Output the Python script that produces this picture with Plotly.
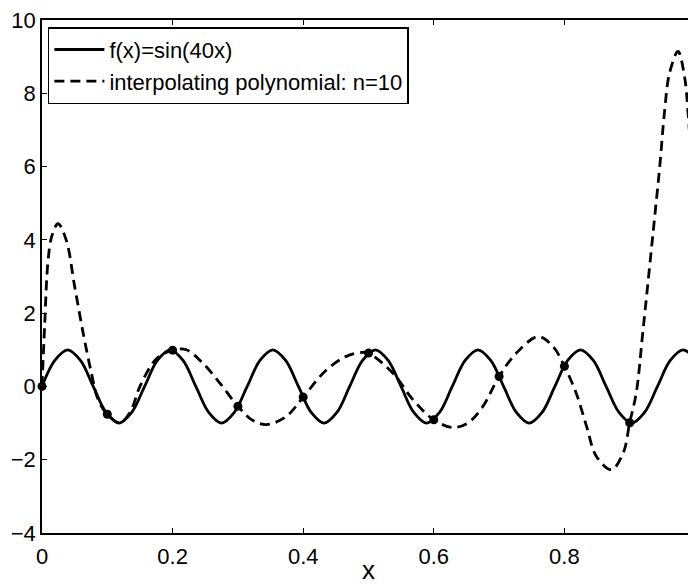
import plotly.graph_objects as go

sin_x = [0.0, 0.0196, 0.0393, 0.0589, 0.0785, 0.0982, 0.1178, 0.1374, 0.1571, 0.1767,
         0.1963, 0.2160, 0.2356, 0.2553, 0.2749, 0.2945, 0.3142, 0.3338, 0.3534, 0.3731,
         0.3927, 0.4123, 0.4320, 0.4516, 0.4712, 0.4909, 0.5105, 0.5301, 0.5498, 0.5694,
         0.5890, 0.6087, 0.6283, 0.6480, 0.6676, 0.6872, 0.7069, 0.7265, 0.7461, 0.7658,
         0.7854, 0.8050, 0.8247, 0.8443, 0.8639, 0.8836, 0.9032, 0.9228, 0.9425, 0.9621,
         0.9817, 1.0]
sin_y = [0, 0.71, 1, 0.71, 0, -0.71, -1, -0.71,
         0, 0.71, 1, 0.71, 0, -0.71, -1, -0.71,
         0, 0.71, 1, 0.71, 0, -0.71, -1, -0.71,
         0, 0.71, 1, 0.71, 0, -0.71, -1, -0.71,
         0, 0.71, 1, 0.71, 0, -0.71, -1, -0.71,
         0, 0.71, 1, 0.71, 0, -0.71, -1, -0.71,
         0, 0.71, 1, 0.75]

# interpolating polynomial, n=10
poly_x = [0.0, 0.004, 0.009, 0.015, 0.0245, 0.037, 0.050, 0.063, 0.0756, 0.086,
          0.1, 0.119, 0.135, 0.15, 0.175, 0.2, 0.221, 0.246, 0.272, 0.3,
          0.322, 0.344, 0.374, 0.4, 0.4355, 0.466, 0.49, 0.5, 0.5375, 0.568,
          0.6, 0.629, 0.652, 0.675, 0.7, 0.7265, 0.76, 0.7825, 0.8, 0.818,
          0.834, 0.849, 0.872, 0.89, 0.9, 0.91, 0.92, 0.9357, 0.946, 0.9536,
          0.961, 0.974, 0.984, 0.989, 0.9945, 0.997, 1.0]
poly_y = [0.0, 1.64, 3.37, 4.1, 4.44, 4.0, 2.73, 1.46, 0.37, -0.36,
          -0.76, -0.99, -0.7, 0.0, 0.75, 0.99, 1.0, 0.64, 0.1, -0.54,
          -0.92, -1.04, -0.82, -0.29, 0.45, 0.82, 0.93, 0.91, 0.36, -0.36,
          -0.91, -1.12, -1.0, -0.55, 0.27, 0.91, 1.36, 1.09, 0.55, -0.18,
          -1.09, -1.91, -2.27, -1.82, -0.99, -0.18, 1.46, 4.18, 6.0, 7.55,
          8.55, 9.14, 8.45, 7.55, 6.0, 4.19, 0.75]

# interpolation nodes
node_x = [0.0, 0.1, 0.2, 0.3, 0.4, 0.5, 0.6, 0.7, 0.8, 0.9, 1.0]
node_y = [0.0, -0.76, 0.99, -0.54, -0.29, 0.91, -0.91, 0.27, 0.55, -0.99, 0.75]

fig = go.Figure()
fig.add_trace(go.Scatter(x=sin_x, y=sin_y, mode='lines', name='f(x)=sin(40x)',
                         line=dict(color='black', width=2.8, shape='spline')))
fig.add_trace(go.Scatter(x=poly_x, y=poly_y, mode='lines', name='interpolating polynomial: n=10',
                         line=dict(color='black', width=2.8, dash='10px,6px', shape='spline')))
fig.add_trace(go.Scatter(x=node_x, y=node_y, mode='markers', showlegend=False,
                         marker=dict(color='black', size=9), cliponaxis=False))

axis_style = dict(showgrid=False, zeroline=False, showline=True, linecolor='black', linewidth=1.5,
                  mirror='ticks', ticks='inside', ticklen=5, tickcolor='black', tickwidth=1,
                  automargin=False, ticklabeloverflow='allow')

# the page has an 8px body margin, so the figure is sized to end at the window edge
fig.update_layout(
    width=688, height=577,
    margin=dict(l=34, r=1, t=12, b=52),
    paper_bgcolor='white', plot_bgcolor='white',
    font=dict(family='Liberation Sans', size=22, color='black'),
    xaxis=dict(range=[0, 1], tickvals=[0, 0.2, 0.4, 0.6, 0.8, 1],
               ticktext=['0', '0.2', '0.4', '0.6', '0.8', '1'], ticklabelstandoff=3,
               title=dict(text='x', standoff=12), **axis_style),
    yaxis=dict(range=[-4, 10], tickvals=[-4, -2, 0, 2, 4, 6, 8, 10], **axis_style),
    legend=dict(x=0.009, y=0.986, xanchor='left', yanchor='top', bgcolor='white',
                bordercolor='black', borderwidth=1.5, font=dict(size=22),
                tracegroupgap=0, itemwidth=50),
    showlegend=True,
)

fig.write_html("out.html")
